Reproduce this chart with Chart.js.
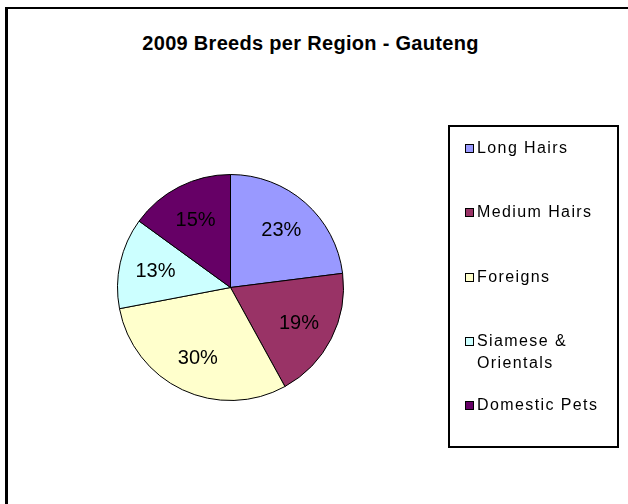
<!DOCTYPE html>
<html>
<head>
<meta charset="utf-8">
<title>2009 Breeds per Region - Gauteng</title>
<script src="https://cdn.jsdelivr.net/npm/chart.js@4/dist/chart.umd.min.js"></script>
<style>
    body { margin: 0; background: #fff; font-family: Arial, "Liberation Sans", sans-serif; }
    #wrap { position: relative; width: 628px; height: 504px; overflow: hidden; }
    #frame { position: absolute; left: 5px; top: 7px; width: 700px; height: 600px;
             border-left: 3px solid #000; border-top: 2px solid #000; }
    #title { position: absolute; left: 0; top: 33px; width: 621px; text-align: center;
             font-weight: bold; font-size: 20px; line-height: 20px; letter-spacing: 0.3px; color: #000; }
    #chart { position: absolute; left: 0; top: 0; }
    #legend { position: absolute; left: 448px; top: 125px; width: 171px; height: 323px;
              box-sizing: border-box; border: 2px solid #000; }
    .item { position: absolute; left: 15px; width: 150px; display: flex; align-items: flex-start;
            font-size: 16px; line-height: 22px; letter-spacing: 1.4px; color: #000; }
    .box { flex: none; width: 7px; height: 7px; border: 1px solid #000; margin: 7px 3px 0 0; }
</style>
</head>
<body>
<div id="wrap">
    <div id="frame"></div>
    <div id="title">2009 Breeds per Region - Gauteng</div>
    <canvas id="chart" width="628" height="504"></canvas>
    <div id="legend"></div>
</div>
<script>
const categories = ['Long Hairs', 'Medium Hairs', 'Foreigns', 'Siamese & Orientals', 'Domestic Pets'];
const shares = [23, 19, 30, 13, 15];
const colours = ['#9999FF', '#993366', '#FFFFCC', '#CCFFFF', '#660066'];

// percentage labels inside the slices
const sliceLabels = {
    id: 'sliceLabels',
    afterDatasetsDraw(chart) {
        const ctx = chart.ctx;
        const meta = chart.getDatasetMeta(0);
        const total = shares.reduce((a, b) => a + b, 0);
        ctx.save();
        ctx.font = '20px Arial, "Liberation Sans", sans-serif';
        ctx.fillStyle = '#000';
        ctx.textAlign = 'center';
        ctx.textBaseline = 'middle';
        meta.data.forEach((arc, i) => {
            const p = arc.getProps(['x', 'y', 'startAngle', 'endAngle', 'outerRadius'], true);
            const mid = (p.startAngle + p.endAngle) / 2;
            const r = p.outerRadius * 0.68;
            const pct = Math.round(shares[i] / total * 100) + '%';
            ctx.fillText(pct, p.x + Math.cos(mid) * r, p.y + Math.sin(mid) * r + 1);
        });
        ctx.restore();
    }
};

const chart = new Chart(document.getElementById('chart'), {
    type: 'pie',
    data: {
        labels: categories,
        datasets: [{
            data: shares,
            backgroundColor: colours,
            borderColor: '#000',
            borderWidth: 1
        }]
    },
    options: {
        responsive: false,
        animation: false,
        layout: { padding: { left: 117, right: 284, top: 174, bottom: 103 } },
        plugins: {
            legend: { display: false },
            title: { display: false },
            tooltip: { enabled: false }
        }
    },
    plugins: [sliceLabels]
});

// html legend from the pie's own legend items
const legendEl = document.getElementById('legend');
const items = chart.options.plugins.legend.labels.generateLabels(chart);
items.forEach((it, i) => {
    const row = document.createElement('div');
    row.className = 'item';
    row.style.top = (10 + i * 64.25) + 'px';
    const sq = document.createElement('span');
    sq.className = 'box';
    sq.style.background = it.fillStyle;
    const txt = document.createElement('span');
    txt.textContent = it.text;
    row.appendChild(sq);
    row.appendChild(txt);
    legendEl.appendChild(row);
});
</script>
</body>
</html>
